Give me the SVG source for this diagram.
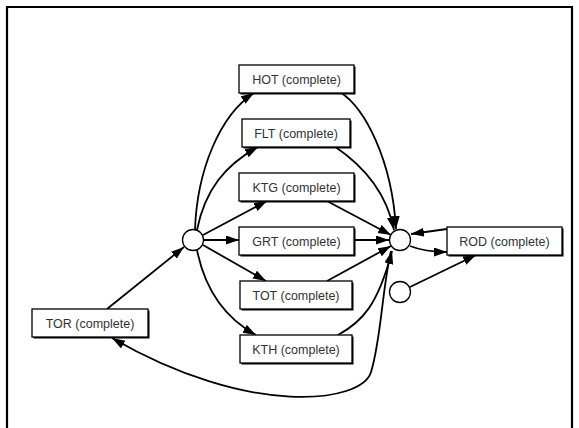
<svg xmlns="http://www.w3.org/2000/svg" width="579" height="428" viewBox="0 0 579 428">
<style>
.box{fill:#fff;stroke:#000;stroke-width:1.3}
.sh{fill:#000}
.lbl{font-family:"Liberation Sans",Arial,sans-serif;font-size:12.5px;fill:#333;text-anchor:middle}
.e{fill:none;stroke:#000;stroke-width:1.8;marker-end:url(#ah)}
.c{fill:#fff;stroke:#000;stroke-width:1.3}
.frame{fill:none;stroke:#000;stroke-width:2.2}
</style>
<defs>
<marker id="ah" markerUnits="userSpaceOnUse" markerWidth="14" markerHeight="10" refX="13" refY="4.5" orient="auto">
<path d="M0,0 L13,4.5 L0,9 z" fill="#000"/>
</marker>
</defs>
<rect width="579" height="428" fill="#fff"/>
<path class="frame" d="M7,428 L7,7 L572,7 L572,428"/>
<g id="connectors">
<path class="e" d="M107,309 L184,247"/>
<path class="e" d="M195,230 C197,170 220,115 254,93"/>
<path class="e" d="M197,230 C205,190 225,165 258,147"/>
<path class="e" d="M203,235 L267,201"/>
<path class="e" d="M204,240 L239,240"/>
<path class="e" d="M203,245 L266,281"/>
<path class="e" d="M197,250 C205,290 225,318 256,335"/>
<path class="e" d="M340,92 C365,108 392,160 396,229"/>
<path class="e" d="M334,146 C355,160 385,185 394,230"/>
<path class="e" d="M325,200 L391,235"/>
<path class="e" d="M354,240 L389,240"/>
<path class="e" d="M327,281 L391,246"/>
<path class="e" d="M338,335 C362,322 378,305 392,251"/>
<path class="e" d="M447,229 L411,234"/>
<path class="e" d="M410,246 Q425,252 447,252"/>
<path class="e" d="M410,287 L476,255"/>
<path class="e" d="M391,251 C382,290 381,340 371,372 C362,403 250,418 112,338"/>
</g>
<g id="n_left"><circle class="c" cx="193" cy="240" r="10.5"/></g>
<g id="n_right"><circle class="c" cx="400" cy="240" r="10.5"/></g>
<g id="n_small"><circle class="c" cx="400" cy="292" r="10.5"/></g>
<g id="HOT"><rect class="sh" x="240.5" y="66.5" width="115" height="28"/><rect class="box" x="239" y="65" width="115" height="28"/><text class="lbl" x="296.5" y="83.5">HOT (complete)</text></g>
<g id="FLT"><rect class="sh" x="243.5" y="120.5" width="108" height="28"/><rect class="box" x="242" y="119" width="108" height="28"/><text class="lbl" x="296" y="137.5">FLT (complete)</text></g>
<g id="KTG"><rect class="sh" x="240.5" y="174.5" width="115" height="28"/><rect class="box" x="239" y="173" width="115" height="28"/><text class="lbl" x="296.5" y="191.5">KTG (complete)</text></g>
<g id="GRT"><rect class="sh" x="240.5" y="228.5" width="115" height="28"/><rect class="box" x="239" y="227" width="115" height="28"/><text class="lbl" x="296.5" y="245.5">GRT (complete)</text></g>
<g id="TOT"><rect class="sh" x="241.5" y="282.5" width="112" height="28"/><rect class="box" x="240" y="281" width="112" height="28"/><text class="lbl" x="296" y="299.5">TOT (complete)</text></g>
<g id="KTH"><rect class="sh" x="241.5" y="336.5" width="112" height="28"/><rect class="box" x="240" y="335" width="112" height="28"/><text class="lbl" x="296" y="353.5">KTH (complete)</text></g>
<g id="TOR"><rect class="sh" x="33.5" y="310.5" width="116" height="28"/><rect class="box" x="32" y="309" width="116" height="28"/><text class="lbl" x="90" y="327.5">TOR (complete)</text></g>
<g id="ROD"><rect class="sh" x="448.5" y="228.5" width="115" height="28"/><rect class="box" x="447" y="227" width="115" height="28"/><text class="lbl" x="504.5" y="245.5">ROD (complete)</text></g>
</svg>
